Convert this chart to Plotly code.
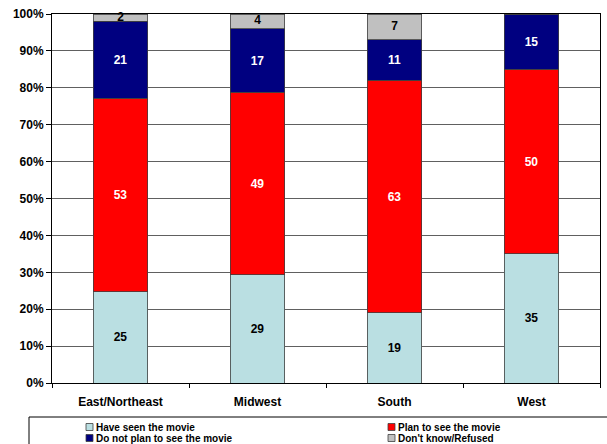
import plotly.graph_objects as go

# Regions on the x axis
regions = ["East/Northeast", "Midwest", "South", "West"]

# Survey answers by region (percent of respondents)
have_seen = [25, 29, 19, 35]
plan_to_see = [53, 49, 63, 50]
not_plan = [21, 17, 11, 15]
dont_know = [2, 4, 7, 0]

series_names = [
    "Have seen the movie",
    "Plan to see the movie",
    "Do not plan to see the movie",
    "Don't know/Refused",
]
series_values = [have_seen, plan_to_see, not_plan, dont_know]
series_colors = ["#BADFE2", "#FF0000", "#000080", "#C0C0C0"]
label_colors = ["black", "white", "white", "black"]

W, H = 607, 444
ML, MR, MT, MB = 52, 7, 14, 61
PW, PH = W - ML - MR, H - MT - MB


def px_x(px):
    return (px - ML) / PW


def px_y(py):
    return (H - MB - py) / PH


FONT = "Liberation Sans, Arial, sans-serif"

fig = go.Figure()
for k, (name, vals, col, tcol) in enumerate(zip(series_names, series_values, series_colors, label_colors)):
    top_series = k == len(series_values) - 1
    fig.add_trace(go.Bar(
        x=regions,
        y=vals,
        name=name,
        marker=dict(color=col, line=dict(color="#404040", width=0.8)),
        text=None if top_series else [str(v) if v else "" for v in vals],
        textposition="inside",
        insidetextanchor="middle",
        textangle=0,
        constraintext="none",
        textfont=dict(color=tcol, size=12, family=FONT, weight="bold"),
        cliponaxis=False,
        showlegend=False,
        hoverinfo="skip",
    ))

# Labels for the thin top segments, centred on each segment of the 100% stack
totals = [sum(v) for v in zip(*series_values)]
below = [a + b + c for a, b, c in zip(have_seen, plan_to_see, not_plan)]
top_mid = [(b + d / 2) / t * 100 for b, d, t in zip(below, dont_know, totals)]
fig.add_trace(go.Scatter(
    x=regions,
    y=top_mid,
    mode="text",
    text=[str(v) if v else "" for v in dont_know],
    textposition="middle center",
    textfont=dict(color=label_colors[-1], size=12, family=FONT, weight="bold"),
    cliponaxis=False,
    showlegend=False,
    hoverinfo="skip",
))

# Legend drawn as a boxed two-column key below the axis
shapes = [dict(
    type="rect", xref="paper", yref="paper",
    x0=px_x(29), x1=px_x(640), y0=px_y(417), y1=px_y(470),
    line=dict(color="black", width=1), fillcolor="rgba(0,0,0,0)", layer="above",
)]
annotations = []
col_sq = [86, 388]
row_y = [427, 438]
for i, (name, col) in enumerate(zip(series_names, series_colors)):
    cx = col_sq[i % 2]
    cy = row_y[i // 2]
    shapes.append(dict(
        type="rect", xref="paper", yref="paper",
        x0=px_x(cx), x1=px_x(cx + 7), y0=px_y(cy - 3.5), y1=px_y(cy + 3.5),
        line=dict(color="#404040", width=0.8), fillcolor=col, layer="above",
    ))
    annotations.append(dict(
        xref="paper", yref="paper", x=px_x(cx + 8), y=px_y(cy),
        xanchor="left", yanchor="middle", showarrow=False, text=name,
        font=dict(family=FONT, size=10, color="black", weight="bold"),
    ))

fig.update_layout(
    width=W, height=H,
    margin=dict(l=ML, r=MR, t=MT, b=MB, pad=0),
    barmode="stack",
    barnorm="percent",
    bargap=0.6,
    plot_bgcolor="white",
    paper_bgcolor="white",
    font=dict(family=FONT, size=12, color="black", weight="bold"),
    shapes=shapes,
    annotations=annotations,
    showlegend=False,
)
fig.update_xaxes(
    showline=True, linecolor="black", linewidth=1, mirror=True,
    ticks="outside", ticklen=4, tickcolor="black", tickson="boundaries",
    ticklabelstandoff=8,
    showgrid=False,
    tickfont=dict(size=12, family=FONT, weight="bold"),
)
fig.update_yaxes(
    range=[0, 100], dtick=10, ticksuffix="%",
    showline=True, linecolor="black", linewidth=1, mirror=True,
    ticks="outside", ticklen=5, tickcolor="black",
    showgrid=True, gridcolor="#606060", gridwidth=1,
    tickfont=dict(size=12, family=FONT, weight="bold"),
)

fig.write_html("out.html")
